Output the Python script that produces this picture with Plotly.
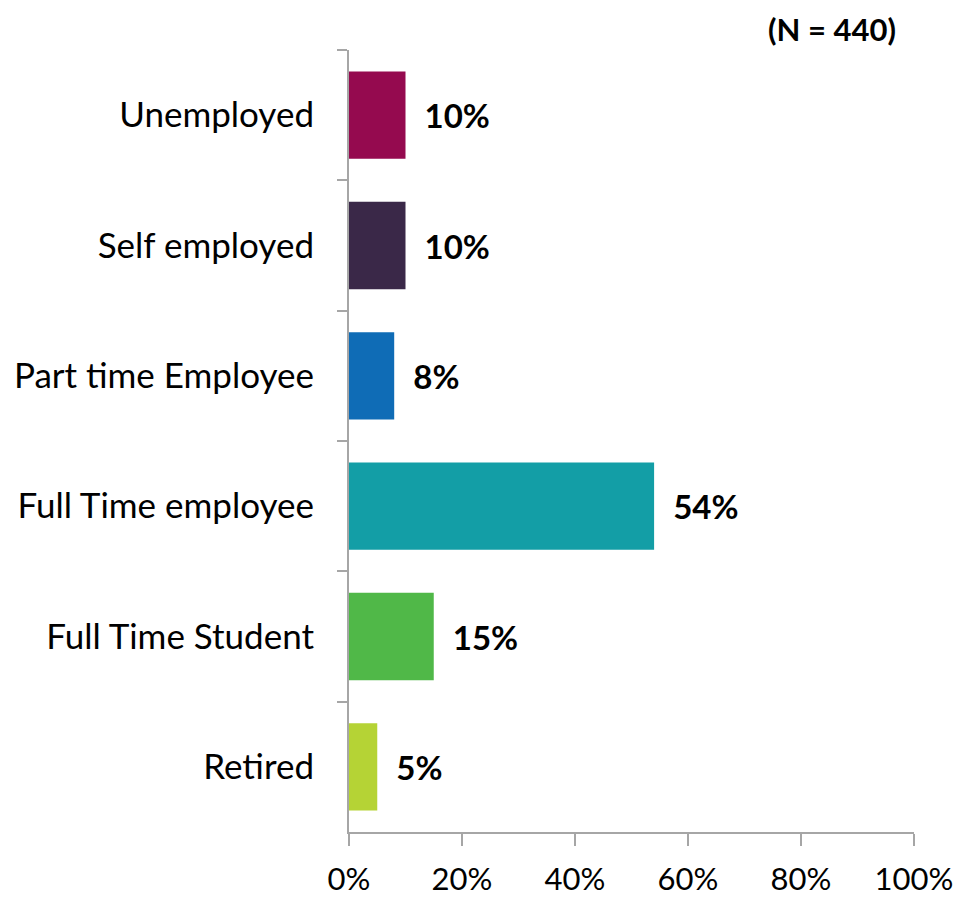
import plotly.graph_objects as go

# Employment status (top to bottom as shown)
categories = ["Unemployed", "Self employed", "Part time Employee",
              "Full Time employee", "Full Time Student", "Retired"]
values = [10, 10, 8, 54, 15, 5]
bar_colors = ["#950A4F", "#3A2848", "#0F6CB6", "#139EA6", "#50B848", "#B5D335"]
x_ticks = [0, 20, 40, 60, 80, 100]
x_tick_text = ["0%", "20%", "40%", "60%", "80%", "100%"]

FONT = "Lato, Calibri, Carlito, sans-serif"

fig = go.Figure(go.Bar(
    x=values,
    y=categories,
    orientation="h",
    marker=dict(color=bar_colors, line=dict(width=0)),
    text=[f"  {v}%" for v in values],
    textposition="outside",
    textfont=dict(family=FONT, size=33, color="black", weight="bold"),
    cliponaxis=False,
    width=0.67,
))

# the page body adds an 8px offset, so margins are shifted accordingly
fig.update_layout(
    width=961,
    height=900,
    paper_bgcolor="white",
    plot_bgcolor="white",
    margin=dict(l=341, r=55, t=42, b=76, autoexpand=False),
    showlegend=False,
    font=dict(family=FONT, size=30, color="black"),
    annotations=[dict(
        text="(N = 440)", x=1.0, y=1.0, xref="paper", yref="paper",
        xanchor="right", yanchor="bottom", xshift=-16, yshift=0, showarrow=False,
        font=dict(family=FONT, size=31, color="black", weight="bold"),
    )],
)

fig.update_xaxes(
    range=[0, 100],
    tickvals=x_ticks,
    ticktext=x_tick_text,
    showgrid=False,
    zeroline=False,
    showline=True,
    linecolor="#A6A6A6",
    linewidth=2,
    ticks="outside",
    ticklen=12,
    tickwidth=2,
    tickcolor="#A6A6A6",
    ticklabelstandoff=7,
    automargin=False,
    tickfont=dict(family=FONT, size=31, color="black"),
)

fig.update_yaxes(
    categoryorder="array",
    categoryarray=categories,
    autorange="reversed",
    showgrid=False,
    showline=True,
    linecolor="#A6A6A6",
    linewidth=2,
    ticks="outside",
    tickson="boundaries",
    ticklen=10,
    tickwidth=2,
    tickcolor="#A6A6A6",
    ticklabelstandoff=26,
    automargin=False,
    tickfont=dict(family=FONT, size=35, color="black"),
)

fig.write_html("out.html")
